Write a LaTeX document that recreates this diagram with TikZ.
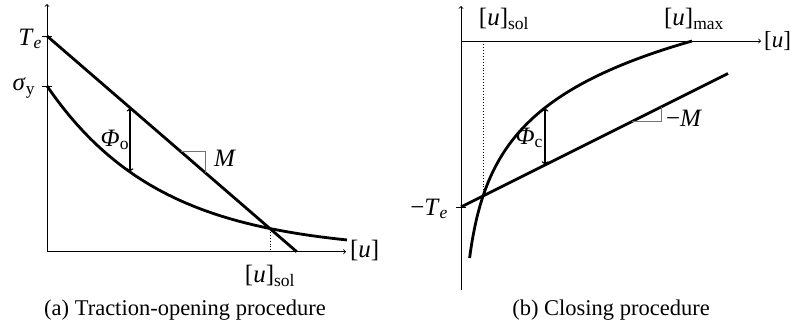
\documentclass[tikz,border=0pt]{standalone}
\usepackage{fontspec}
\setmainfont{Liberation Serif}
\begin{document}
\begin{tikzpicture}[x=1pt,y=-1pt,
  every node/.style={font=\fontsize{25}{30}\selectfont, inner sep=0pt, outer sep=0pt},
  captext/.style={font=\fontsize{22.5}{27}\selectfont},
  axisline/.style={line width=0.9pt,-to},
  tickline/.style={line width=0.9pt},
  curveline/.style={line width=2.8pt},
  gapline/.style={line width=1.4pt,to-to},
  slopeline/.style={line width=0.9pt,draw=black!55},
  dotline/.style={line width=0.9pt,dotted}]
\useasboundingbox (0,0) rectangle (791,335);

% ---------- (a) ----------
\coordinate (aO) at (47,251.7);
\coordinate (aY) at (47,4);
\coordinate (aX) at (346,251.7);
\draw[axisline] (aO) -- (aY);
\draw[axisline] (aO) -- (aX);
\coordinate (aTe) at (47,36);
\coordinate (aSy) at (47,86);
\draw[tickline] (42,36) -- (52,36);
\draw[tickline] (42,86) -- (52,86);
\coordinate (aLend) at (296.7,251.7);
\draw[curveline] (aTe) -- (aLend);
\draw[curveline] plot[domain=0:300,samples=90] ({47+\x},{251.7-165.7*exp(-0.00882*\x)});
\coordinate (aS) at (270.7,229);
\coordinate (aSb) at (270.7,251.7);
\draw[dotline] (aS) -- (aSb);
\coordinate (aP1) at (130,107.7);
\coordinate (aP2) at (130,172);
\draw[gapline] (aP1) -- (aP2);
\coordinate (aM1) at (181,151.7);
\coordinate (aM2) at (205,151.7);
\coordinate (aM3) at (205,172.5);
\draw[slopeline] (aM1) -- (aM2) -- (aM3);
\node[anchor=east] (lTe) at (42,39) {\textit{T}\textsubscript{\textit{e}}};
\node[anchor=east] (lSy) at (35,88) {\textit{σ}\textsubscript{y}};
\node[anchor=west] (lU) at (350,250) {[\textit{u}]};
\node (lUs) at (270,276) {[\textit{u}]\textsubscript{sol}};
\node[anchor=east] (lPo) at (129,140) {\textit{Φ}\textsubscript{o}};
\node (lM) at (225,158) {\textit{M}};
\node[captext] (capa) at (185,310) {(a) Traction-opening procedure};

% ---------- (b) ----------
\coordinate (bO) at (461,290);
\coordinate (bY) at (461,6);
\coordinate (bX0) at (461,41);
\coordinate (bX) at (761,41);
\draw[axisline] (bO) -- (bY);
\draw[axisline] (bX0) -- (bX);
\draw[tickline] (456,207) -- (466,207);
\coordinate (bTe) at (461,207);
\coordinate (bLend) at (728,73.5);
\draw[curveline] (bTe) -- (bLend);
\draw[curveline] plot[domain=-217:0,samples=120] ({461+231*exp(\x/66)},{41-\x});
\coordinate (bS) at (483,196);
\coordinate (bSt) at (483,41);
\draw[dotline] (bS) -- (bSt);
\coordinate (bP1) at (545,107.8);
\coordinate (bP2) at (545,165);
\draw[gapline] (bP1) -- (bP2);
\coordinate (bM1) at (632,121.5);
\coordinate (bM2) at (661,121.5);
\coordinate (bM3) at (661,107);
\draw[slopeline] (bM1) -- (bM2) -- (bM3);
\node[anchor=east] (lmTe) at (448,209) {−\textit{T}\textsubscript{\textit{e}}};
\node (lUs2) at (504,19) {[\textit{u}]\textsubscript{sol}};
\node (lUm) at (694,19) {[\textit{u}]\textsubscript{max}};
\node[anchor=east, font=\fontsize{23}{28}\selectfont] (lU2) at (791,41) {[\textit{u}]};
\node[anchor=east] (lPc) at (543,138) {\textit{Φ}\textsubscript{c}};
\node[anchor=west] (lmM) at (666,118) {−\textit{M}};
\node[captext] (capb) at (611,310) {(b) Closing procedure};
\end{tikzpicture}
\end{document}
